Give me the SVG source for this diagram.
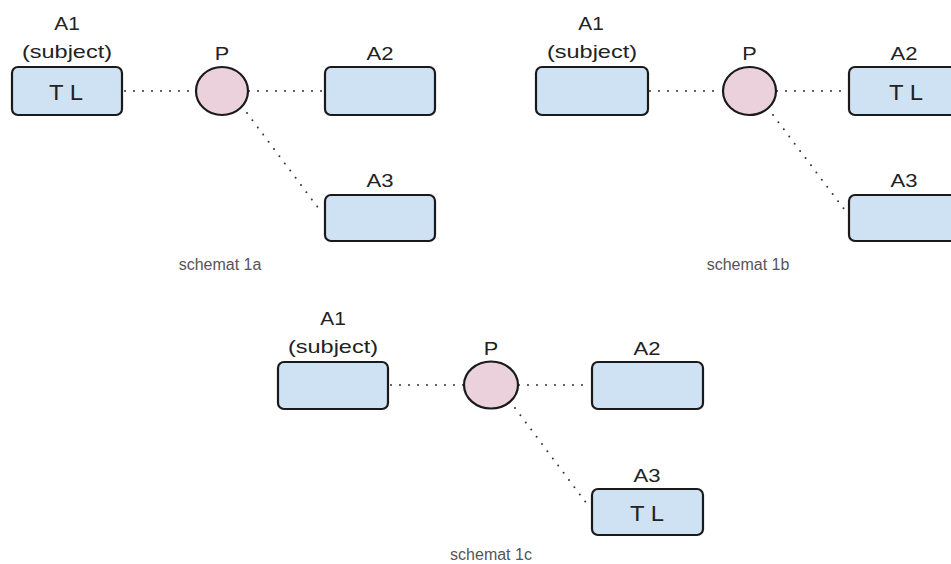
<svg xmlns="http://www.w3.org/2000/svg" width="951" height="564" viewBox="0 0 951 564">
  <style>
    .box { fill: #cfe2f3; stroke: #1a1a1a; stroke-width: 2.2; }
    .pred { fill: #ead1dc; stroke: #1a1a1a; stroke-width: 2.2; }
    .lbl { font-family: "Liberation Sans", Arial, sans-serif; font-size: 19px; fill: #222; text-anchor: middle; }
    .tl { font-family: "Liberation Sans", Arial, sans-serif; font-size: 22px; fill: #222; text-anchor: middle; }
    .cap { font-family: "Liberation Sans", Arial, sans-serif; font-size: 16px; fill: #555; text-anchor: middle; }
    .link { stroke: #333; stroke-width: 2; stroke-dasharray: 0 9; stroke-linecap: round; fill: none; }
  </style>
  <rect width="951" height="564" fill="#fff"/>

  <!-- dotted links between arguments and predicate -->
  <g id="connectors">
    <line class="link" x1="125" y1="91" x2="196" y2="91"/>
    <line class="link" x1="249" y1="91" x2="323" y2="91"/>
    <line class="link" x1="247" y1="113" x2="322" y2="213"/>

    <line class="link" x1="650" y1="91" x2="722" y2="91"/>
    <line class="link" x1="777" y1="91" x2="847" y2="91"/>
    <line class="link" x1="773" y1="115" x2="847" y2="213"/>

    <line class="link" x1="391" y1="385" x2="464" y2="385"/>
    <line class="link" x1="519" y1="385" x2="590" y2="385"/>
    <line class="link" x1="515" y1="408" x2="590" y2="508"/>
  </g>

  <!-- schemat 1a -->
  <g id="s1a-A1">
    <text class="lbl" x="67" y="30" textLength="25.5" lengthAdjust="spacingAndGlyphs">A1</text>
    <text class="lbl" x="67" y="58" textLength="90" lengthAdjust="spacingAndGlyphs">(subject)</text>
    <rect class="box" x="12" y="67" width="110" height="48" rx="6"/>
    <text class="tl" x="66" y="100" textLength="34" lengthAdjust="spacingAndGlyphs">T L</text>
  </g>
  <g id="s1a-P">
    <text class="lbl" x="222" y="60" textLength="14.5" lengthAdjust="spacingAndGlyphs">P</text>
    <ellipse class="pred" cx="222" cy="91" rx="26" ry="24"/>
  </g>
  <g id="s1a-A2">
    <text class="lbl" x="380" y="60" textLength="27" lengthAdjust="spacingAndGlyphs">A2</text>
    <rect class="box" x="325" y="67" width="110" height="48" rx="6"/>
  </g>
  <g id="s1a-A3">
    <text class="lbl" x="380" y="187" textLength="27" lengthAdjust="spacingAndGlyphs">A3</text>
    <rect class="box" x="325" y="195" width="110" height="46" rx="6"/>
  </g>
  <text class="cap" x="220" y="270">schemat 1a</text>

  <!-- schemat 1b -->
  <g id="s1b-A1">
    <text class="lbl" x="591" y="30" textLength="25.5" lengthAdjust="spacingAndGlyphs">A1</text>
    <text class="lbl" x="592" y="58" textLength="90" lengthAdjust="spacingAndGlyphs">(subject)</text>
    <rect class="box" x="536" y="67" width="112" height="48" rx="6"/>
  </g>
  <g id="s1b-P">
    <text class="lbl" x="749.5" y="60" textLength="14.5" lengthAdjust="spacingAndGlyphs">P</text>
    <ellipse class="pred" cx="749.5" cy="91" rx="26.5" ry="24"/>
  </g>
  <g id="s1b-A2">
    <text class="lbl" x="904" y="60" textLength="27" lengthAdjust="spacingAndGlyphs">A2</text>
    <rect class="box" x="849" y="67" width="110" height="48" rx="6"/>
    <text class="tl" x="906" y="100" textLength="34" lengthAdjust="spacingAndGlyphs">T L</text>
  </g>
  <g id="s1b-A3">
    <text class="lbl" x="904" y="187" textLength="27" lengthAdjust="spacingAndGlyphs">A3</text>
    <rect class="box" x="849" y="195" width="110" height="46" rx="6"/>
  </g>
  <text class="cap" x="748" y="270">schemat 1b</text>

  <!-- schemat 1c -->
  <g id="s1c-A1">
    <text class="lbl" x="333" y="325" textLength="25.5" lengthAdjust="spacingAndGlyphs">A1</text>
    <text class="lbl" x="333" y="353" textLength="90" lengthAdjust="spacingAndGlyphs">(subject)</text>
    <rect class="box" x="278" y="362" width="110" height="47" rx="6"/>
  </g>
  <g id="s1c-P">
    <text class="lbl" x="491" y="355" textLength="14.5" lengthAdjust="spacingAndGlyphs">P</text>
    <ellipse class="pred" cx="491" cy="385" rx="27" ry="23.5"/>
  </g>
  <g id="s1c-A2">
    <text class="lbl" x="647" y="355" textLength="27" lengthAdjust="spacingAndGlyphs">A2</text>
    <rect class="box" x="592" y="362" width="111" height="47" rx="6"/>
  </g>
  <g id="s1c-A3">
    <text class="lbl" x="647" y="482" textLength="27" lengthAdjust="spacingAndGlyphs">A3</text>
    <rect class="box" x="592" y="489" width="111" height="46" rx="6"/>
    <text class="tl" x="647" y="521" textLength="34" lengthAdjust="spacingAndGlyphs">T L</text>
  </g>
  <text class="cap" x="491" y="560">schemat 1c</text>
</svg>
